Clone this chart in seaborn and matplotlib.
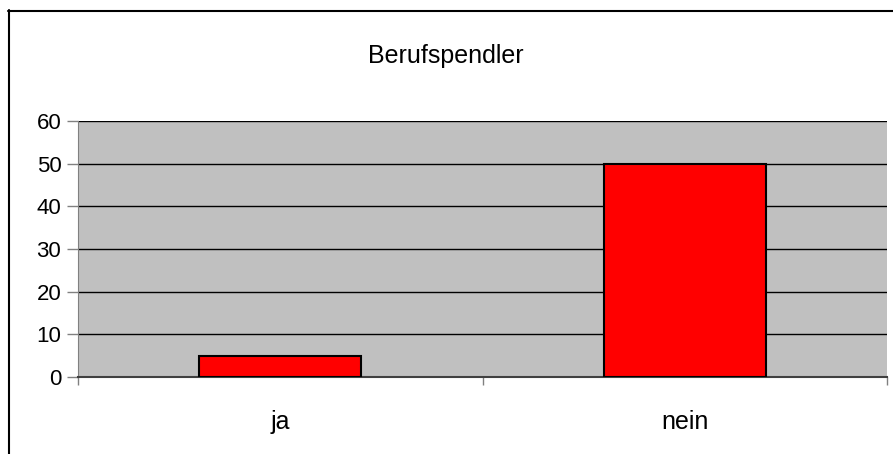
import seaborn as sns
import pandas as pd
import numpy as np
import matplotlib.pyplot as plt
from matplotlib.ticker import FixedLocator

categories = ['ja', 'nein']
values = [5, 50]
title = 'Berufspendler'

sns.set_style('white')
plt.rcParams['font.family'] = ['Liberation Sans', 'DejaVu Sans']
plt.rcParams['text.color'] = 'black'
plt.rcParams['xtick.labelcolor'] = 'black'
plt.rcParams['ytick.labelcolor'] = 'black'

df = pd.DataFrame({'antwort': categories, 'anzahl': values})

W, H = 893, 454
fig = plt.figure(figsize=(W / 100, H / 100), dpi=100)
ax = fig.add_axes([78 / W, (H - 377) / H, (887 - 78) / W, (377 - 121) / H])
ax.set_facecolor('#c0c0c0')

sns.barplot(df, x='antwort', y='anzahl', color='#ff0000', width=0.4,
            edgecolor='black', linewidth=1.5, saturation=1, ax=ax, zorder=3)

ax.set_ylim(0, 60)
ax.set_xlim(-0.5, 1.5)
ax.set_yticks(range(0, 61, 10))
ax.yaxis.grid(True, color='black', linewidth=1, zorder=1)
ax.set_axisbelow(True)
ax.set_xlabel('')
ax.set_ylabel('')

for side in ['top', 'right']:
    ax.spines[side].set_visible(False)
ax.spines['left'].set_color('#808080')
ax.spines['bottom'].set_color('#404040')
ax.spines['bottom'].set_linewidth(1.5)

ax.tick_params(axis='y', length=8, width=1, color='#808080', labelsize=16, pad=4,
               left=True, labelcolor='black')
ax.tick_params(axis='x', which='major', length=0, labelsize=18, pad=24, labelcolor='black')
ax.xaxis.set_minor_locator(FixedLocator([-0.5, 0.5, 1.5]))
ax.tick_params(axis='x', which='minor', length=6, width=1, color='#808080', bottom=True)

fig.text(446 / W, 1 - 56 / H, title, ha='center', va='center', fontsize=18, color='black')

# Rahmen des Diagrammbereichs (links und oben sichtbar)
fig.add_artist(plt.Line2D([8.5 / W, 8.5 / W], [0, 1 - 10 / H], color='black', linewidth=1.5))
fig.add_artist(plt.Line2D([8 / W, 1], [1 - 10.5 / H, 1 - 10.5 / H], color='black', linewidth=1.5))

plt.savefig('out.png', dpi=100)
